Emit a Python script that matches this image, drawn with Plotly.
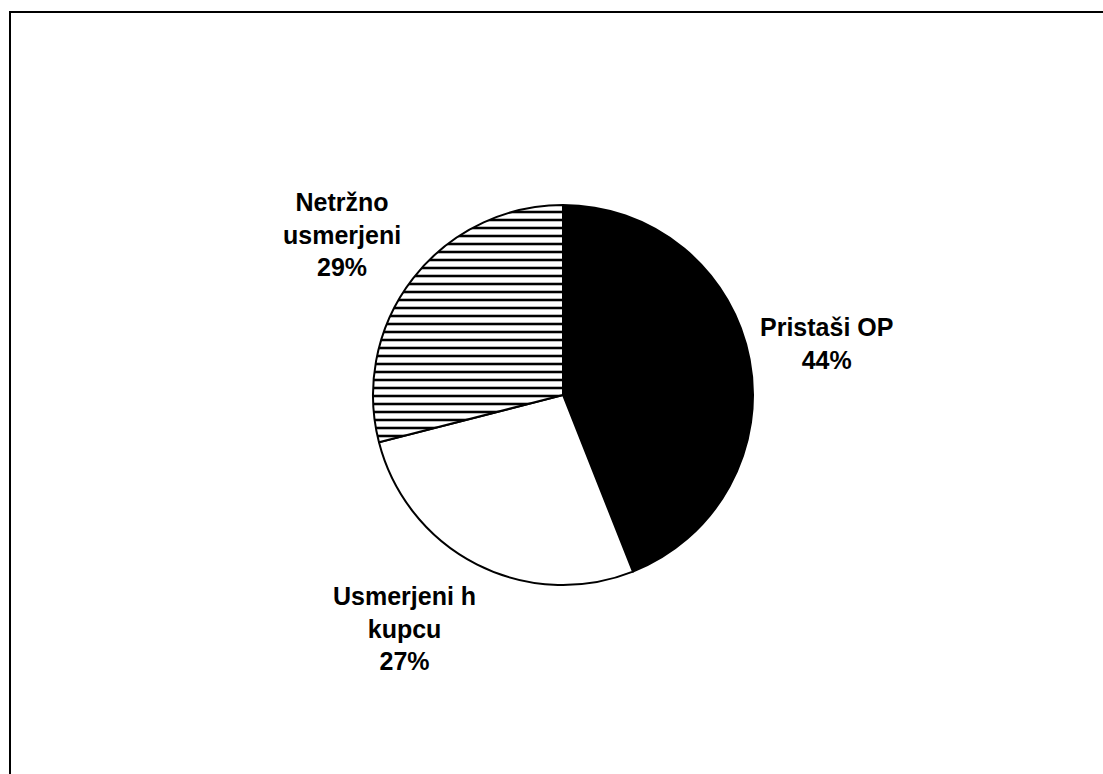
import plotly.graph_objects as go

# Share of respondents by orientation group
categories = ["Pristaši OP", "Usmerjeni h kupcu", "Netržno usmerjeni"]
label_lines = [["Pristaši OP"], ["Usmerjeni h", "kupcu"], ["Netržno", "usmerjeni"]]
values = [44, 27, 29]

W, H = 1103, 774


def px(x):
    return x / W


def py(y):
    return 1 - y / H


# Pie placement in pixels (centre and radius)
cx, cy, r = 563, 395, 190

fig = go.Figure(
    go.Pie(
        labels=categories,
        values=values,
        sort=False,
        direction="clockwise",
        rotation=0,
        textinfo="none",
        hoverinfo="label+percent",
        showlegend=False,
        domain=dict(x=[px(cx - r), px(cx + r)], y=[py(cy + r), py(cy - r)]),
        marker=dict(
            colors=["#000000", "#ffffff", "#ffffff"],
            line=dict(color="#000000", width=2),
            pattern=dict(
                shape=["", "", "-"],
                fgcolor="#000000",
                bgcolor="#ffffff",
                size=8,
                solidity=0.32,
            ),
        ),
    )
)

# Label anchors (pixel centres) for each slice
label_pos = [(826, 343), (404, 628), (342, 234)]
total = sum(values)
for lines, v, (lx, ly) in zip(label_lines, values, label_pos):
    pct = round(100 * v / total)
    fig.add_annotation(
        x=px(lx), y=py(ly), xref="paper", yref="paper",
        text="<br>".join(lines + [f"{pct}%"]),
        showarrow=False, xanchor="center", yanchor="middle", align="center",
        font=dict(family="Liberation Sans, Arial, sans-serif", size=25,
                  color="#000000", weight="bold"),
    )

# Outer frame
fig.add_shape(
    type="rect", xref="paper", yref="paper",
    x0=px(10), x1=px(W + 20), y0=py(H + 20), y1=py(12),
    line=dict(color="#000000", width=2), fillcolor="rgba(0,0,0,0)",
)

fig.update_layout(
    width=W, height=H,
    margin=dict(l=0, r=0, t=0, b=0),
    paper_bgcolor="#ffffff",
    plot_bgcolor="#ffffff",
    font=dict(family="Liberation Sans, Arial, sans-serif"),
)

fig.write_html("out.html")
